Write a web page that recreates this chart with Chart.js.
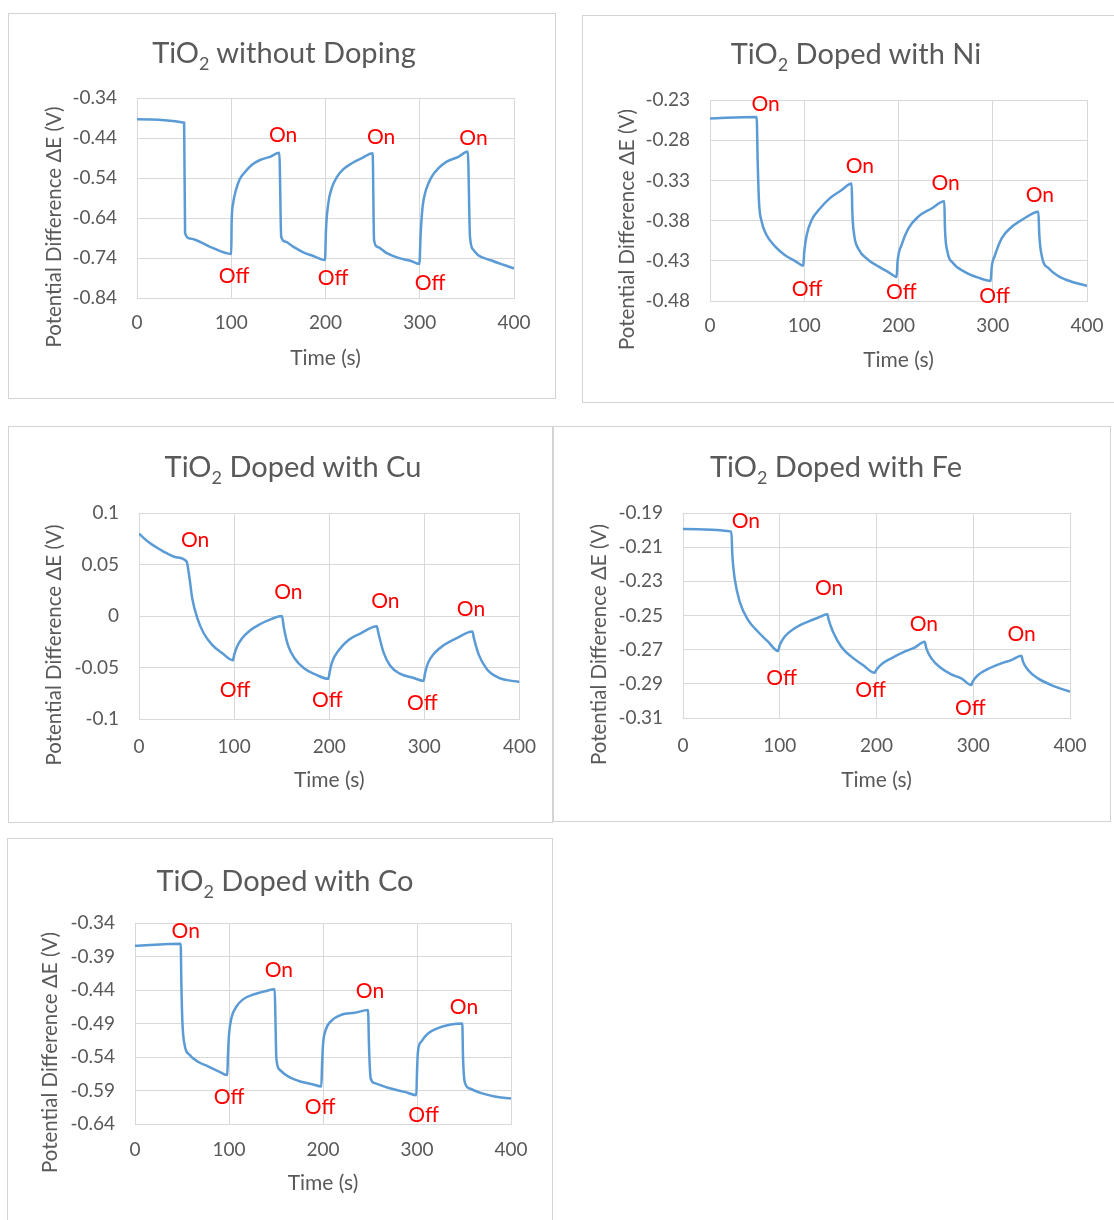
<!DOCTYPE html>
<html lang="en">
<head>
    <meta charset="UTF-8">
    <title>TiO2 potential difference under light on / off</title>
    <script src="https://cdn.jsdelivr.net/npm/chart.js"></script>
    <style>
        body { margin: 0; width: 1114px; height: 1220px; overflow: hidden; background: #fff; font-family: Lato, "Liberation Sans", sans-serif; }
        .panel { position: absolute; border: 1px solid #d4d4d4; background: #fff; }
        .panel canvas { display: block; }
        .panel h2 { position: absolute; z-index: 1; margin: 0; transform: translateX(-50%); white-space: nowrap;
                    font-weight: normal; font-size: 29px; line-height: 40px; color: #595959; }
        .panel h2 sub { font-size: 0.62em; line-height: 0; }
    </style>
</head>
<body>
    <div class="panel" style="left:8px;top:13px;width:546px;height:384px">
        <h2 style="left:275px;top:18px">TiO<sub>2</sub> without Doping</h2>
        <canvas id="chartPure" width="546" height="384"></canvas>
    </div>
    <div class="panel" style="left:582px;top:15px;width:544px;height:386px">
        <h2 style="left:273px;top:17px">TiO<sub>2</sub> Doped with Ni</h2>
        <canvas id="chartNi" width="544" height="386"></canvas>
    </div>
    <div class="panel" style="left:8px;top:426px;width:543px;height:395px">
        <h2 style="left:284px;top:19px">TiO<sub>2</sub> Doped with Cu</h2>
        <canvas id="chartCu" width="543" height="395"></canvas>
    </div>
    <div class="panel" style="left:553px;top:426px;width:556px;height:394px">
        <h2 style="left:282px;top:19px">TiO<sub>2</sub> Doped with Fe</h2>
        <canvas id="chartFe" width="556" height="394"></canvas>
    </div>
    <div class="panel" style="left:7px;top:838px;width:544px;height:390px">
        <h2 style="left:277px;top:21px">TiO<sub>2</sub> Doped with Co</h2>
        <canvas id="chartCo" width="544" height="390"></canvas>
    </div>

    <script>
        // eixo do tempo, igual para todos os graficos
        const timeTicks = [0, 100, 200, 300, 400];

        // TiO2 sem dopagem
        const pureTime = [0, 50, 51, 56, 77.5, 100, 100.4, 102, 105, 109, 115, 122, 130.5, 141, 151, 153, 157, 166, 176.5, 187, 199.5, 200.5, 203, 206.5, 212, 219, 228, 238, 250, 251.5, 255, 265, 279, 290, 299.6, 301, 303, 306.6, 312.6, 319.7, 328.6, 341, 351, 353.3, 357, 362, 374.5, 388.7, 400];
        const pureDE = [-0.393, -0.402, -0.678, -0.691, -0.712, -0.730, -0.653, -0.603, -0.570, -0.543, -0.524, -0.507, -0.495, -0.487, -0.477, -0.687, -0.699, -0.712, -0.726, -0.735, -0.745, -0.670, -0.603, -0.566, -0.538, -0.518, -0.503, -0.491, -0.478, -0.695, -0.712, -0.728, -0.741, -0.747, -0.755, -0.678, -0.612, -0.570, -0.537, -0.516, -0.499, -0.487, -0.474, -0.687, -0.720, -0.733, -0.745, -0.757, -0.766];
        const pureTicks = [-0.84, -0.74, -0.64, -0.54, -0.44, -0.34];
        const pureOnT = [155, 259, 357];
        const pureOnE = [-0.432, -0.437, -0.440];
        const pureOffT = [103, 208, 311];
        const pureOffE = [-0.785, -0.790, -0.802];

        // dopado com Ni
        const niTime = [0, 49.5, 50.6, 52, 54.8, 60, 69, 79.6, 90, 99, 100, 102.6, 108, 116.7, 127.3, 139.7, 150.3, 151, 153, 157.4, 168, 178.6, 189.2, 198, 199, 203.4, 210.4, 221, 235, 248.6, 249.3, 252, 258, 270.6, 284.7, 297.8, 298.8, 302.4, 309.5, 320, 332.4, 348.4, 349.4, 352.6, 359, 369.6, 383.7, 400];
        const niDE = [-0.253, -0.251, -0.307, -0.357, -0.381, -0.398, -0.412, -0.423, -0.430, -0.436, -0.419, -0.398, -0.379, -0.365, -0.352, -0.342, -0.334, -0.369, -0.398, -0.415, -0.429, -0.437, -0.444, -0.450, -0.431, -0.410, -0.390, -0.375, -0.365, -0.356, -0.390, -0.419, -0.433, -0.444, -0.451, -0.455, -0.439, -0.423, -0.402, -0.388, -0.378, -0.369, -0.398, -0.427, -0.439, -0.449, -0.456, -0.461];
        const niTicks = [-0.48, -0.43, -0.38, -0.33, -0.28, -0.23];
        const niOnT = [59, 159, 250, 350];
        const niOnE = [-0.235, -0.313, -0.333, -0.349];
        const niOffT = [103, 203, 302];
        const niOffE = [-0.465, -0.469, -0.474];

        // dopado com Cu
        const cuTime = [0, 11, 25, 39, 50, 52.6, 56, 61.3, 68.2, 76.9, 87.3, 98.7, 100, 102.9, 108, 116.7, 127, 139, 150.3, 152.4, 156.5, 163.5, 173.8, 186, 199.1, 200.5, 203.3, 210.2, 220.6, 232.7, 250, 251.8, 257, 263.9, 274.3, 288.1, 299.2, 300.6, 303.7, 310.6, 321, 333, 350.5, 352.2, 357.4, 366, 378.2, 392, 400];
        const cuDE = [0.080, 0.071, 0.063, 0.057, 0.053, 0.040, 0.017, -0.002, -0.017, -0.028, -0.036, -0.043, -0.038, -0.030, -0.022, -0.014, -0.008, -0.003, 0.000, -0.012, -0.028, -0.041, -0.051, -0.057, -0.061, -0.054, -0.044, -0.033, -0.023, -0.017, -0.010, -0.017, -0.035, -0.048, -0.056, -0.060, -0.063, -0.056, -0.046, -0.036, -0.028, -0.022, -0.015, -0.022, -0.038, -0.052, -0.060, -0.063, -0.064];
        const cuTicks = [-0.1, -0.05, 0, 0.05, 0.1];
        const cuOnT = [59, 157, 259, 349];
        const cuOnE = [0.074, 0.023, 0.014, 0.007];
        const cuOffT = [101, 198, 298];
        const cuOffE = [-0.072, -0.082, -0.085];

        // dopado com Fe
        const feTime = [0, 50, 51, 53.4, 58.6, 67.2, 77.5, 87.9, 98.2, 100, 105, 115.4, 129.2, 139.5, 149.2, 150.6, 155, 163.6, 174, 186, 198, 199.8, 205, 215.3, 229, 239.4, 249.8, 251.5, 256.7, 267, 277.3, 287.7, 298, 299.7, 305, 315.2, 329, 339.4, 349.7, 351.4, 356.6, 366.9, 380.7, 400];
        const feDE = [-0.1994, -0.2009, -0.2146, -0.2283, -0.2419, -0.2526, -0.2595, -0.2653, -0.2708, -0.2673, -0.2624, -0.2575, -0.2536, -0.2513, -0.2493, -0.2526, -0.2595, -0.2683, -0.2741, -0.2790, -0.2835, -0.2819, -0.2786, -0.2751, -0.2712, -0.2688, -0.2653, -0.2692, -0.2751, -0.2809, -0.2845, -0.2868, -0.2907, -0.2884, -0.2848, -0.2813, -0.2780, -0.2761, -0.2735, -0.2770, -0.2819, -0.2868, -0.2907, -0.2946];
        const feTicks = [-0.31, -0.29, -0.27, -0.25, -0.23, -0.21, -0.19];
        const feOnT = [65, 151, 249, 350];
        const feOnE = [-0.195, -0.234, -0.255, -0.261];
        const feOffT = [102, 194, 297];
        const feOffE = [-0.287, -0.294, -0.304];

        // dopado com Co
        const coTime = [0, 48.6, 49.3, 50.4, 52.8, 58.2, 67, 77.7, 88.3, 98.2, 98.9, 100, 102.5, 107.8, 114.9, 125.5, 138, 148.6, 149.3, 150.4, 153.9, 162.8, 177, 189.4, 198.2, 199, 200, 202.8, 208.9, 219.5, 233.7, 247.9, 249, 250.7, 255, 269, 286.9, 299.3, 300, 301, 304.6, 311.7, 322.3, 334.8, 348.2, 348.9, 350.7, 356, 368.4, 382.6, 400];
        const coDE = [-0.374, -0.371, -0.428, -0.487, -0.522, -0.537, -0.547, -0.554, -0.561, -0.567, -0.537, -0.507, -0.482, -0.465, -0.454, -0.447, -0.442, -0.439, -0.477, -0.542, -0.559, -0.569, -0.577, -0.581, -0.584, -0.552, -0.522, -0.500, -0.486, -0.477, -0.474, -0.470, -0.527, -0.572, -0.579, -0.586, -0.592, -0.597, -0.562, -0.532, -0.517, -0.505, -0.497, -0.492, -0.490, -0.537, -0.577, -0.587, -0.594, -0.599, -0.602];
        const coTicks = [-0.64, -0.59, -0.54, -0.49, -0.44, -0.39, -0.34];
        const coOnT = [54, 153, 250, 350];
        const coOnE = [-0.352, -0.410, -0.442, -0.465];
        const coOffT = [100, 197, 307];
        const coOffE = [-0.600, -0.615, -0.627];

        const FONT = 'Lato, "Liberation Sans", sans-serif';
        const GRAY = '#595959';
        const GRID = '#d9d9d9';
        Chart.defaults.font.family = FONT;

        // escreve On / Off e o titulo do eixo y
        function notesPlugin(onT, onE, offT, offE, yTitleX) {
            return {
                id: 'notes',
                afterDatasetsDraw(chart) {
                    const { ctx, chartArea, scales: { x, y } } = chart;
                    ctx.save();
                    ctx.font = '21px ' + FONT;
                    ctx.fillStyle = '#ff0000';
                    ctx.textAlign = 'center';
                    ctx.textBaseline = 'middle';
                    onT.forEach((t, i) => ctx.fillText('On', x.getPixelForValue(t), y.getPixelForValue(onE[i])));
                    offT.forEach((t, i) => ctx.fillText('Off', x.getPixelForValue(t), y.getPixelForValue(offE[i])));

                    ctx.font = '20.5px ' + FONT;
                    ctx.fillStyle = GRAY;
                    ctx.translate(yTitleX, (chartArea.top + chartArea.bottom) / 2 + 29);
                    ctx.rotate(-Math.PI / 2);
                    ctx.fillText('Potential Difference \u0394E (V)', 0, 0);
                    ctx.restore();
                }
            };
        }

        function makeChart(id, time, values, yTicks, onT, onE, offT, offE, g) {
            const padBottom = g.xTitleGap - 12.6;
            return new Chart(document.getElementById(id), {
                type: 'line',
                data: {
                    datasets: [{
                        data: time.map((t, i) => ({ x: t, y: values[i] })),
                        borderColor: '#5b9bd5',
                        borderWidth: 2.5,
                        pointRadius: 0,
                        cubicInterpolationMode: 'monotone'
                    }]
                },
                options: {
                    responsive: false,
                    animation: false,
                    events: [],
                    layout: { padding: { left: 0, top: g.padTop, right: g.padRight, bottom: padBottom } },
                    plugins: { legend: { display: false }, tooltip: { enabled: false }, title: { display: false } },
                    scales: {
                        x: {
                            type: 'linear',
                            min: timeTicks[0],
                            max: timeTicks[timeTicks.length - 1],
                            afterBuildTicks: s => { s.ticks = timeTicks.map(v => ({ value: v })); },
                            afterFit: s => { s.height = g.bottomZone - padBottom; },
                            grid: { color: GRID, drawTicks: false },
                            border: { color: GRID },
                            ticks: { color: GRAY, font: { size: 19 }, padding: g.tickGap, maxRotation: 0, autoSkip: false, callback: v => String(v) },
                            title: { display: true, text: 'Time (s)', color: GRAY, font: { size: 21 }, padding: 0 }
                        },
                        y: {
                            min: yTicks[0],
                            max: yTicks[yTicks.length - 1],
                            afterBuildTicks: s => { s.ticks = yTicks.map(v => ({ value: v })); },
                            afterFit: s => { s.width = g.plotLeft; },
                            grid: { color: GRID, drawTicks: false },
                            border: { color: GRID },
                            ticks: { color: GRAY, font: { size: 19 }, padding: 20, autoSkip: false, callback: v => String(v) }
                        }
                    }
                },
                plugins: [notesPlugin(onT, onE, offT, offE, g.yTitleX)]
            });
        }

        makeChart('chartPure', pureTime, pureDE, pureTicks, pureOnT, pureOnE, pureOffT, pureOffE,
            { plotLeft: 128, padRight: 41, padTop: 84, bottomZone: 100, xTitleGap: 40, yTitleX: 45, tickGap: 13 });
        makeChart('chartNi', niTime, niDE, niTicks, niOnT, niOnE, niOffT, niOffE,
            { plotLeft: 127, padRight: 40, padTop: 84, bottomZone: 101, xTitleGap: 42, yTitleX: 44, tickGap: 13 });
        makeChart('chartCu', cuTime, cuDE, cuTicks, cuOnT, cuOnE, cuOffT, cuOffE,
            { plotLeft: 130, padRight: 28, padTop: 86, bottomZone: 103, xTitleGap: 42, yTitleX: 45, tickGap: 16 });
        makeChart('chartFe', feTime, feDE, feTicks, feOnT, feOnE, feOffT, feOffE,
            { plotLeft: 129, padRight: 40, padTop: 86, bottomZone: 103, xTitleGap: 41, yTitleX: 45, tickGap: 16 });
        makeChart('chartCo', coTime, coDE, coTicks, coOnT, coOnE, coOffT, coOffE,
            { plotLeft: 127, padRight: 41, padTop: 84, bottomZone: 105, xTitleGap: 46, yTitleX: 42, tickGap: 14 });
    </script>
</body>
</html>
